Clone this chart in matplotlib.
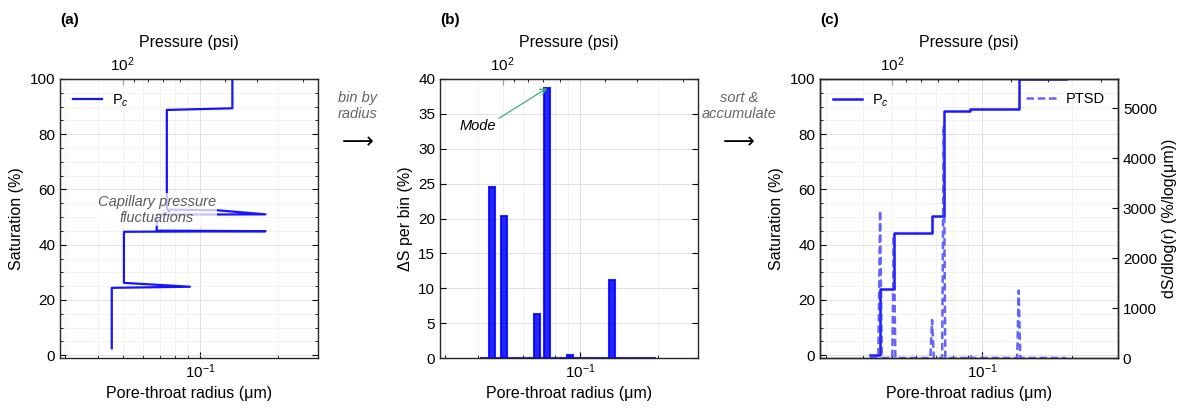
import numpy as np
import matplotlib
matplotlib.use('Agg')
import matplotlib.pyplot as plt
from matplotlib.ticker import NullFormatter, MultipleLocator

plt.rcParams['font.family'] = ['Liberation Sans', 'DejaVu Sans']
plt.rcParams['mathtext.fontset'] = 'custom'
plt.rcParams['mathtext.rm'] = 'Liberation Sans'
plt.rcParams['mathtext.it'] = 'Liberation Sans:italic'

# (a) raw drainage curve, in measurement order
raw_radius = [0.0454, 0.0454, 0.0912, 0.0506, 0.0506, 0.179, 0.0678, 0.0678,
              0.179, 0.1157, 0.0742, 0.0742, 0.1332, 0.1332]
raw_sat = [2.5, 24.4, 24.8, 26.2, 44.7, 44.9, 45.1, 50.9,
           51.0, 52.5, 52.7, 88.8, 89.4, 100.0]

# (b) saturation increment per radius bin
bin_radius = [0.0420, 0.0442, 0.0455, 0.0480, 0.0506, 0.0533, 0.0562, 0.0592,
              0.0624, 0.0652, 0.0680, 0.0712, 0.0744, 0.0784, 0.0826, 0.0868,
              0.0913, 0.0955, 0.1000, 0.1050, 0.1102, 0.1157, 0.1210, 0.1265,
              0.1328, 0.1399, 0.1474, 0.1553, 0.1636, 0.1724, 0.1816, 0.1913]
bin_dS = [0, 0, 24.5, 0, 20.4, 0, 0, 0,
          0, 0, 6.35, 0, 38.7, 0, 0, 0,
          0.4, 0, 0, 0, 0, 0, 0, 0,
          11.2, 0, 0, 0, 0, 0, 0, 0]

# (c) pore-throat size distribution
ptsd_radius = [0.0420, 0.0449, 0.0455, 0.0461, 0.0500, 0.0506, 0.0512,
               0.0671, 0.0680, 0.0689, 0.0735, 0.0744, 0.0753,
               0.0902, 0.0913, 0.0924, 0.1312, 0.1328, 0.1344, 0.1913]
ptsd_value = [0, 0, 2950, 0, 0, 2450, 0,
              0, 760, 0, 0, 4650, 0,
              0, 48, 0, 0, 1350, 0, 0]

XLIM = (0.0286, 0.286)
K_PSI = 5.0  # radius (um) * pressure (psi)

W, H = 1180, 408
fig = plt.figure(figsize=(W / 100, H / 100), dpi=100)

TICK_FS = 11
LABEL_FS = 11.5
TEXT_FS = 10.5


def rect(x0, x1, y0=79, y1=358):
    return [x0 / W, 1 - y1 / H, (x1 - x0) / W, (y1 - y0) / H]


def style(ax, right=True):
    ax.set_xscale('log')
    ax.set_xlim(*XLIM)
    ax.xaxis.set_minor_formatter(NullFormatter())
    ax.grid(True, which='major', color='#dcdcdc', lw=0.6)
    ax.grid(True, which='minor', color='#ededed', lw=0.5)
    ax.set_axisbelow(True)
    ax.tick_params(which='both', direction='in', top=False, right=right, labelsize=TICK_FS)
    ax.tick_params(which='major', length=4)
    ax.tick_params(which='minor', length=2)
    for s in ax.spines.values():
        s.set_linewidth(1.0)
        s.set_color('#262626')
    ax.set_xlabel('Pore-throat radius (μm)', fontsize=LABEL_FS, labelpad=3)
    sec = ax.secondary_xaxis('top', functions=(lambda r: K_PSI / r, lambda p: K_PSI / p))
    sec.tick_params(which='both', direction='in', labelsize=TICK_FS)
    sec.tick_params(which='major', length=4)
    sec.tick_params(which='minor', length=2)
    sec.xaxis.set_minor_formatter(NullFormatter())
    sec.set_xlabel('Pressure (psi)', fontsize=LABEL_FS, labelpad=6)
    return sec


pc_label = r'$\mathrm{P}_c$'
leg_kw = dict(frameon=False, fontsize=TEXT_FS, handlelength=2.0, handletextpad=0.7)

# ---- (a)
ax_a = fig.add_axes(rect(60, 318))
style(ax_a)
ax_a.plot(raw_radius, raw_sat, color='#1414ff', lw=1.6, label=pc_label)
ax_a.set_ylim(-1, 100)
ax_a.yaxis.set_major_locator(MultipleLocator(20))
ax_a.yaxis.set_minor_locator(MultipleLocator(5))
ax_a.set_ylabel('Saturation (%)', fontsize=LABEL_FS)
ax_a.legend(loc='upper left', **leg_kw)
ax_a.text(0.0678, 52.6, 'Capillary pressure\nfluctuations', ha='center', va='center',
          fontsize=TEXT_FS, style='italic', color='#5a5a5a', zorder=5,
          bbox=dict(facecolor='white', edgecolor='none', alpha=0.75, pad=1))

# ---- (b)
ax_b = fig.add_axes(rect(440, 698))
style(ax_b)
ax_b.bar(bin_radius, bin_dS, width=[r * 0.052 for r in bin_radius],
         color='#0000ff', edgecolor='#0000ff', lw=1.5, alpha=0.85, clip_on=False)
ax_b.set_ylim(0, 40)
ax_b.yaxis.set_major_locator(MultipleLocator(5))
ax_b.set_ylabel('ΔS per bin (%)', fontsize=LABEL_FS)
ax_b.annotate('Mode', xy=(0.0744, 38.7), xytext=(0.0401, 33.3),
              ha='center', va='center', fontsize=TEXT_FS, style='italic',
              arrowprops=dict(arrowstyle='->', color='#3cb371', lw=0.9,
                              relpos=(1.0, 0.9), shrinkA=0, shrinkB=0))

# ---- (c)
ax_c = fig.add_axes(rect(820, 1118))
style(ax_c, right=False)
cum = np.cumsum(bin_dS)
cum = cum / cum[-1] * 100
ax_c.plot(bin_radius, cum, drawstyle='steps-post', color='#0000ff', lw=1.8,
          alpha=0.9, label=pc_label)
ax_c.set_ylim(-1, 100)
ax_c.yaxis.set_major_locator(MultipleLocator(20))
ax_c.yaxis.set_minor_locator(MultipleLocator(5))
ax_c.set_ylabel('Saturation (%)', fontsize=LABEL_FS)
ax_c.legend(loc='upper left', **leg_kw)

ax_c2 = ax_c.twinx()
ax_c2.plot(ptsd_radius, ptsd_value, '--', color='#3030ff', lw=1.8, alpha=0.75,
           dashes=(3, 1.5), label='PTSD')
ax_c2.set_ylim(0, 1.2 * max(ptsd_value))
ax_c2.yaxis.set_major_locator(MultipleLocator(1000))
ax_c2.tick_params(which='both', direction='in', labelsize=TICK_FS, length=4)
ax_c2.set_ylabel('dS/dlog(r) (%/log(μm))', fontsize=LABEL_FS)
ax_c2.legend(loc='upper right', **leg_kw)
for s in ax_c2.spines.values():
    s.set_linewidth(1.0)
    s.set_color('#262626')

# ---- panel letters and flow arrows
for x, lab in [(60, '(a)'), (440, '(b)'), (820, '(c)')]:
    fig.text(x / W, 1 - 20 / H, lab, fontsize=11, fontweight='bold', va='center', ha='left')

for x, txt in [(358, 'bin by\nradius'), (739, 'sort &\naccumulate')]:
    fig.text(x / W, 1 - 106 / H, txt, fontsize=TEXT_FS, style='italic', color='#666666',
             ha='center', va='center', linespacing=1.25)
    fig.text(x / W, 1 - 143 / H, '⟶', fontsize=16, ha='center', va='center')

fig.savefig('out.png', dpi=100)
